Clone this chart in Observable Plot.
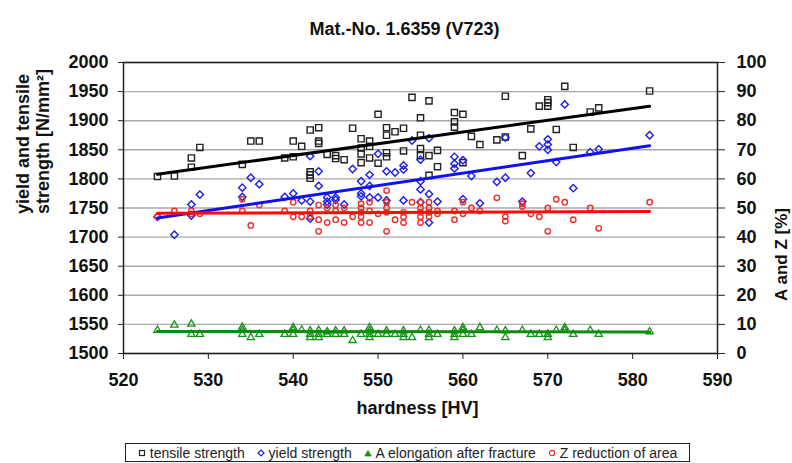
<!DOCTYPE html>
<html>
<head>
<meta charset="utf-8">
<script src="https://cdn.jsdelivr.net/npm/d3@7"></script>
<script src="https://cdn.jsdelivr.net/npm/@observablehq/plot@0.6"></script>
<style>
  html, body { margin: 0; padding: 0; background: #fff; }
  #wrap { position: relative; width: 792px; height: 463px; overflow: hidden; font-family: "Liberation Sans", Arial, sans-serif; }
  #chart svg { display: block; }
  #legend { position: absolute; left: 125px; top: 443px; width: 563px; height: 17px; border: 1px solid #222;
            display: flex; align-items: center; justify-content: space-evenly; font-size: 14px; color: #222; white-space: nowrap; background: #fff; }
  #legend .item { display: flex; align-items: center; }
  #legend svg { margin-right: 4px; }
</style>
</head>
<body>
<div id="wrap">
  <div id="chart"></div>
  <div id="legend"></div>
</div>
<script>
// ---- data ----
const chartTitle = "Mat.-No. 1.6359 (V723)";
const xTitle = "hardness [HV]";
const yLeftTitle = "yield and tensile\nstrength [N/mm²]";
const yRightTitle = "A and Z [%]";

const xTicks = [520, 530, 540, 550, 560, 570, 580, 590];
const leftTicks = [1500, 1550, 1600, 1650, 1700, 1750, 1800, 1850, 1900, 1950, 2000];
const rightTicks = [0, 10, 20, 30, 40, 50, 60, 70, 80, 90, 100];

const seriesNames = ["tensile strength", "yield strength", "A elongation after fracture", "Z reduction of area"];

// tensile strength [N/mm²] vs hardness [HV]
const tensile = [[524,1804],[526,1805],[528,1820],[528,1836],[529,1854],[534,1825],[535,1865],[536,1865],[539,1836],[540,1838],[540,1865],[541,1856],[542,1884],[542,1812],[542,1807],[542,1801],[543,1888],[543,1865],[543,1861],[544,1842],[545,1840],[545,1835],[546,1833],[547,1887],[548,1869],[548,1853],[548,1843],[548,1828],[549,1865],[549,1856],[549,1836],[550,1911],[550,1827],[551,1888],[551,1875],[551,1845],[551,1838],[552,1881],[553,1887],[553,1848],[554,1940],[555,1905],[555,1875],[555,1852],[555,1840],[556,1934],[556,1840],[556,1806],[557,1849],[557,1821],[559,1914],[559,1898],[559,1889],[560,1911],[560,1828],[561,1873],[562,1859],[564,1867],[565,1942],[565,1872],[567,1840],[568,1886],[569,1925],[570,1936],[570,1931],[570,1925],[571,1885],[572,1959],[573,1854],[575,1915],[576,1922],[582,1951]];

// yield strength [N/mm²]
const yieldStrength = [[524,1735],[526,1704],[528,1756],[528,1737],[529,1773],[534,1785],[534,1769],[535,1802],[536,1791],[539,1769],[540,1775],[541,1763],[542,1839],[542,1761],[542,1732],[543,1813],[543,1788],[544,1768],[544,1761],[544,1756],[545,1768],[545,1764],[546,1756],[547,1817],[548,1796],[548,1775],[548,1770],[549,1807],[549,1788],[549,1768],[550,1843],[550,1768],[551,1813],[551,1763],[552,1811],[553,1823],[553,1816],[553,1763],[554,1866],[555,1833],[555,1796],[555,1782],[555,1760],[556,1870],[556,1774],[556,1725],[557,1761],[559,1838],[559,1826],[559,1818],[560,1832],[560,1765],[561,1805],[562,1758],[564,1795],[565,1871],[565,1802],[567,1761],[568,1810],[569,1856],[570,1868],[570,1859],[570,1850],[571,1829],[572,1928],[573,1784],[575,1846],[576,1851],[582,1875]];

// A elongation after fracture [%]
const elongationA = [[524,8.0],[526,9.8],[528,10.1],[528,6.6],[529,6.6],[534,9.1],[534,8.0],[534,6.6],[535,5.5],[536,6.6],[539,6.6],[540,8.9],[540,8.0],[540,6.6],[541,8.1],[542,7.8],[542,6.6],[542,5.5],[543,8.0],[543,6.6],[543,5.5],[544,7.5],[544,6.6],[545,7.8],[545,6.6],[546,7.8],[546,6.6],[547,4.5],[548,6.6],[549,8.9],[549,7.8],[549,6.6],[549,5.5],[550,6.6],[551,7.8],[551,6.6],[552,6.6],[553,7.8],[553,6.6],[553,5.5],[554,5.5],[555,8.0],[556,8.0],[556,6.6],[556,5.5],[557,6.6],[559,7.8],[559,6.6],[559,5.5],[560,8.9],[560,8.0],[560,6.6],[561,6.6],[562,8.9],[564,8.0],[565,7.8],[565,5.5],[567,8.0],[568,6.6],[569,6.6],[570,6.6],[570,5.5],[571,8.0],[572,8.9],[572,8.0],[573,6.6],[575,8.0],[576,6.6],[582,7.5]];

// Z reduction of area [%]
const reductionZ = [[524,47],[526,49],[528,49],[528,48],[529,48],[534,53],[534,49],[535,44],[536,51],[539,49],[540,52],[540,47],[541,47],[542,49],[542,47],[543,51],[543,46],[543,42],[544,50],[544,45],[545,51],[545,49],[545,46],[546,50],[546,45],[547,47],[548,51.5],[548,50],[548,48.5],[548,47],[548,45],[549,52],[549,49],[549,45],[550,48],[551,56],[551,52],[551,50],[551,48.5],[551,42],[552,46],[553,48.5],[553,47],[553,45],[554,52],[555,52],[555,50],[555,48.5],[555,47],[555,45],[556,52],[556,50],[556,48.5],[556,47],[557,49],[557,48],[559,49],[559,46],[560,52],[560,48],[561,50],[562,49],[564,53.5],[565,47],[565,45.5],[567,51.5],[567,50.5],[568,48],[569,47],[570,50],[570,42],[571,53],[572,52],[573,46],[575,50],[576,43],[582,52]];

// trend lines (end points)
const trendTensile = [[524,1808],[582,1925]];
const trendYield = [[524,1733],[582,1857]];
const trendA = [[524,7.6],[582,7.4]];
const trendZ = [[524,48.2],[582,48.8]];

// ---- colours ----
const cBlack = "#222222", cBlue = "#1c1ce6", cGreen = "#149414", cRed = "#e8302a";

// right axis (0..100 %) shares the left scale: 1500 + 5*v
const toLeft = v => 1500 + 5 * v;
const fromLeft = y => (y - 1500) / 5;

const chart = Plot.plot({
  width: 792,
  height: 463,
  marginTop: 62,
  marginBottom: 110,
  marginLeft: 123,
  marginRight: 75,
  x: { domain: [520, 590] },
  y: { domain: [1500, 2000] },
  style: { fontFamily: "Liberation Sans, Arial, sans-serif", fontSize: "18px", fontWeight: "bold", color: "#111", background: "#fff", overflow: "visible" },
  marks: [
    Plot.gridY(leftTicks, { stroke: "#a8a8a8", strokeOpacity: 1, strokeWidth: 1.4 }),
    Plot.frame({ stroke: "#222", strokeWidth: 1.5 }),
    Plot.axisY(leftTicks, { anchor: "left", label: null, tickSize: 5, tickPadding: 10, tickFormat: d => String(d), stroke: "#222" }),
    Plot.axisY(rightTicks.map(toLeft), { anchor: "right", label: null, tickSize: 7, tickPadding: 12, tickFormat: d => String(fromLeft(d)), stroke: "#222" }),
    Plot.axisX(xTicks, { anchor: "bottom", label: null, tickSize: 6, tickPadding: 14, tickFormat: d => String(d), stroke: "#222" }),

    Plot.dot(tensile, { x: d => d[0], y: d => d[1], symbol: "square", r: 3.5, stroke: cBlack, strokeWidth: 1.4, fill: "none" }),
    Plot.dot(yieldStrength, { x: d => d[0], y: d => d[1], symbol: "diamond2", r: 3.3, stroke: cBlue, strokeWidth: 1.4, fill: "none" }),
    Plot.dot(reductionZ, { x: d => d[0], y: d => toLeft(d[1]), symbol: "circle", r: 2.7, stroke: cRed, strokeWidth: 1.4, fill: "none" }),
    Plot.dot(elongationA, { x: d => d[0], y: d => toLeft(d[1]), symbol: "triangle", r: 2.7, stroke: cGreen, strokeWidth: 1.3, fill: "none" }),

    Plot.line(trendTensile, { x: d => d[0], y: d => d[1], stroke: "#000", strokeWidth: 3 }),
    Plot.line(trendYield, { x: d => d[0], y: d => d[1], stroke: "#1010f0", strokeWidth: 3 }),
    Plot.line(trendZ, { x: d => d[0], y: d => toLeft(d[1]), stroke: "#ff0a0a", strokeWidth: 3 }),
    Plot.line(trendA, { x: d => d[0], y: d => toLeft(d[1]), stroke: "#0d8c0d", strokeWidth: 3 }),

    Plot.text([chartTitle], { text: d => d, frameAnchor: "top", dx: -16, dy: -40, fontSize: 18, fontWeight: "bold", fill: "#111" }),
    Plot.text([xTitle], { text: d => d, frameAnchor: "bottom", dx: -3, dy: 60, fontSize: 18, fontWeight: "bold", fill: "#111" }),
    Plot.text([yLeftTitle], { text: d => d, frameAnchor: "left", dx: -91, dy: 6, rotate: -90, lineHeight: 1.12, fontSize: 18, fontWeight: "bold", fill: "#111" }),
    Plot.text([yRightTitle], { text: d => d, frameAnchor: "right", dx: 64, dy: 0, rotate: -90, fontSize: 17, fontWeight: "bold", fill: "#111" })
  ]
});
document.getElementById("chart").appendChild(chart);

// ---- legend ----
const markerSvgs = [
  `<svg width="8" height="8"><rect x="1.5" y="1.5" width="5" height="5" fill="none" stroke="${cBlack}" stroke-width="1.2"/></svg>`,
  `<svg width="8" height="8"><path d="M4 1 L7 4 L4 7 L1 4 Z" fill="none" stroke="${cBlue}" stroke-width="1.2"/></svg>`,
  `<svg width="8" height="8"><path d="M4 1.5 L7.2 7 L0.8 7 Z" fill="${cGreen}" stroke="${cGreen}" stroke-width="0.8"/></svg>`,
  `<svg width="8" height="8"><circle cx="4" cy="4" r="2.6" fill="none" stroke="${cRed}" stroke-width="1.2"/></svg>`
];
const legend = document.getElementById("legend");
seriesNames.forEach((name, i) => {
  const span = document.createElement("span");
  span.className = "item";
  span.innerHTML = markerSvgs[i] + `<span>${name}</span>`;
  legend.appendChild(span);
});
</script>
</body>
</html>
